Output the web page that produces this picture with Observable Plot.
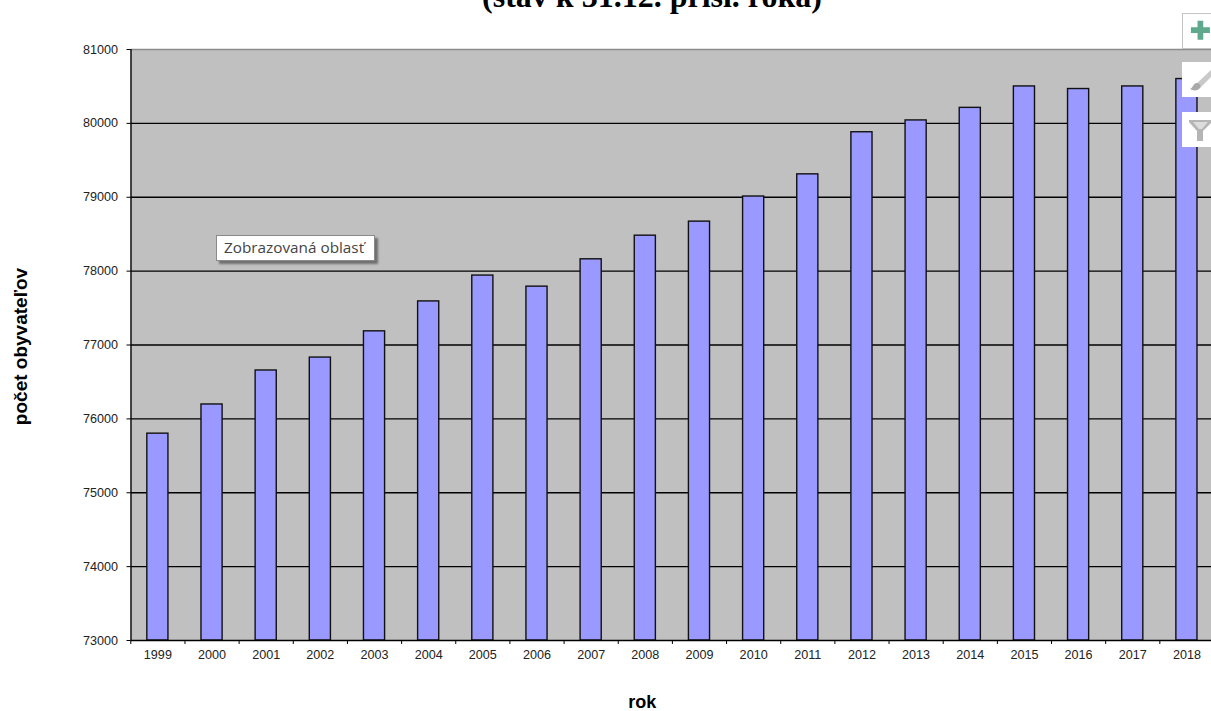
<!DOCTYPE html>
<html lang="sk">
<head>
<meta charset="utf-8">
<style>
html,body{margin:0;padding:0;background:#fff;overflow:hidden;width:1211px;height:711px}
#chart{position:absolute;left:0;top:0;width:1211px;height:711px;overflow:hidden}
#title{position:absolute;left:652px;top:-22px;transform:translateX(-50%);font:bold 32px "Liberation Serif",serif;color:#000;white-space:nowrap;line-height:36px}
#tip{position:absolute;left:216px;top:235px;width:159px;height:26px;box-sizing:border-box;background:#fff;border:1.5px solid #8a8a8a;box-shadow:3px 3px 2px #707070;font:15.3px "Open Sans",sans-serif;color:#444;line-height:23px;padding-left:7px;white-space:nowrap}
.btn{position:absolute;left:1182px;width:29px;height:35px;background:#fff;box-sizing:border-box}
.btn svg{display:block;position:absolute;left:0;top:0}
</style>
<script src="https://cdn.jsdelivr.net/npm/d3@7"></script>
<script src="https://cdn.jsdelivr.net/npm/@observablehq/plot@0.6"></script>
</head>
<body>
<div id="chart"></div>
<div id="title">(stav k 31.12. prísl. roka)</div>
<div id="tip">Zobrazovaná oblasť</div>
<div class="btn" style="top:13px;height:36px;border:1.5px solid #c4c4c4;border-right:none"><svg width="29" height="34"><path d="M9 7h6v7h7v6h-7v7H9v-7H2v-6h7z" transform="translate(6,0) scale(.95)" fill="#5fa98d"/></svg></div>
<div class="btn" style="top:62px"><svg width="29" height="35"><path d="M29 8L14 22l4 4L29 15z" fill="#c9c9c9"/><path d="M8 27c3-1 3-6 7-6 3 0 4 3 3 5-2 3-7 3-10 1z" fill="#a9a9a9"/></svg></div>
<div class="btn" style="top:112px"><svg width="29" height="35"><path d="M7 8h23v2l-9 9v10h-6V19L7 10z" fill="#b5b5b5"/><path d="M11 10h15l-6 7h-3z" fill="#dcdcdc"/></svg></div>
<script>
const years = ["1999","2000","2001","2002","2003","2004","2005","2006","2007","2008","2009","2010","2011","2012","2013","2014","2015","2016","2017","2018"];
const population = [75800,76195,76655,76830,77185,77590,77940,77790,78160,78480,78670,79010,79310,79880,80040,80210,80500,80465,80500,80600];
const yTicks = [73000,74000,75000,76000,77000,78000,79000,80000,81000];
const yLabel = "počet obyvateľov";
const xLabel = "rok";
const rows = years.map((year, i) => ({year, value: population[i]}));
const tickFont = "Liberation Sans, Arial, sans-serif";

const plot = Plot.plot({
  width: 1211, height: 711,
  marginTop: 49, marginBottom: 71, marginLeft: 130.5, marginRight: 0,
  style: {fontFamily: tickFont, background: "#fff", color: "#000", overflow: "hidden"},
  x: {type: "band", domain: years, range: [130.3, 1213.5], paddingInner: 0.61, paddingOuter: 0.305, align: 0.5, round: false, label: null},
  y: {domain: [73000, 81000], range: [640, 49], label: null},
  marks: [
    Plot.frame({fill: "#c0c0c0", stroke: null}),
    Plot.ruleY(yTicks.slice(1, -1), {stroke: "#000", strokeWidth: 1.3}),
    Plot.ruleY([81000], {stroke: "#8c8c8c", strokeWidth: 1.5}),
    Plot.barY(rows, {x: "year", y1: 73000, y2: "value", fill: "#9999ff", stroke: "#111", strokeWidth: 1.4}),
    Plot.ruleX([years[0]], {dx: -26.9, stroke: "#000", strokeWidth: 1.4}),
    Plot.ruleY([73000], {stroke: "#000", strokeWidth: 1.4}),
    Plot.axisY({ticks: yTicks, tickSize: 4, tickPadding: 9, tickFormat: d => String(d), fontSize: 12.6, label: null, stroke: "#000", fill: "#222"}),
    Plot.axisX({tickSize: 4, tickFormat: null, dx: -27.08, label: null, stroke: "#000"}),
    Plot.axisX({tickSize: 0, tickPadding: 10, fontSize: 12.6, label: null, fill: "#222"}),
    Plot.text([xLabel], {frameAnchor: "bottom", lineAnchor: "middle", dx: -29, dy: 61.5, fontSize: 18, fontWeight: "bold", fill: "#000"}),
    Plot.text([yLabel], {frameAnchor: "left", textAnchor: "middle", lineAnchor: "middle", rotate: -90, dx: -110, dy: 1.5, fontSize: 19, fontWeight: "bold", fill: "#000"})
  ]
});
document.getElementById("chart").appendChild(plot);
</script>
</body>
</html>
